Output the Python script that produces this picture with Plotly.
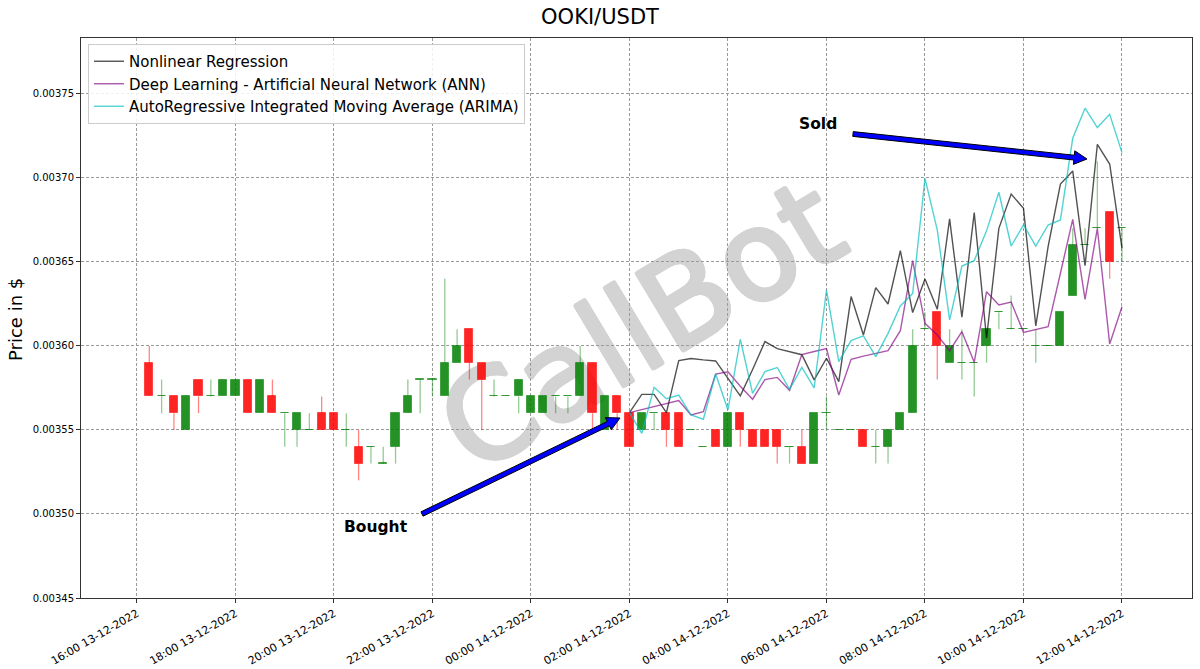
import math
import pandas as pd
import plotly.graph_objects as go

# ---------------- data ----------------
candle_start = "2022-12-13 16:15"
n_candles = 80
times = pd.date_range(candle_start, periods=n_candles, freq="15min")

open_ = [0.00359, 0.00357, 0.00357, 0.00355, 0.00358, 0.00357, 0.00357, 0.00357, 0.00358, 0.00356,
         0.00357, 0.00356, 0.00355, 0.00355, 0.00356, 0.00356, 0.00355, 0.00354, 0.00354, 0.00353,
         0.00354, 0.00356, 0.00358, 0.00358, 0.00357, 0.00359, 0.00361, 0.00359, 0.00357, 0.00357,
         0.00357, 0.00356, 0.00356, 0.00357, 0.00357, 0.00357, 0.00359, 0.00355, 0.00357, 0.00356,
         0.00355, 0.00356, 0.00356, 0.00356, 0.00355, 0.00354, 0.00355, 0.00354, 0.00356, 0.00355,
         0.00355, 0.00355, 0.00354, 0.00354, 0.00353, 0.00356, 0.00355, 0.00355, 0.00355, 0.00354,
         0.00354, 0.00355, 0.00356, 0.00361, 0.00362, 0.00359, 0.00359, 0.00359, 0.00360, 0.00362,
         0.00361, 0.00361, 0.00360, 0.00360, 0.00360, 0.00363, 0.00366, 0.00367, 0.00368, 0.00367]
high = [0.00360, 0.00358, 0.00357, 0.00357, 0.00358, 0.00358, 0.00358, 0.00358, 0.00358, 0.00358,
        0.00358, 0.00356, 0.00356, 0.00356, 0.00357, 0.00356, 0.00356, 0.00355, 0.00354, 0.00354,
        0.00356, 0.00358, 0.00358, 0.00358, 0.00364, 0.00361, 0.00361, 0.00359, 0.00358, 0.00357,
        0.00358, 0.00357, 0.00357, 0.00357, 0.00357, 0.00360, 0.00359, 0.00357, 0.00357, 0.00356,
        0.00356, 0.00356, 0.00356, 0.00356, 0.00355, 0.00354, 0.00355, 0.00356, 0.00356, 0.00355,
        0.00355, 0.00355, 0.00354, 0.00355, 0.00356, 0.00357, 0.00355, 0.00355, 0.00355, 0.00355,
        0.00355, 0.00356, 0.00361, 0.00362, 0.00362, 0.00361, 0.00361, 0.00359, 0.00361, 0.00362,
        0.00363, 0.00361, 0.00361, 0.00360, 0.00362, 0.00367, 0.00367, 0.00371, 0.00368, 0.00367]
low = [0.00357, 0.00356, 0.00355, 0.00355, 0.00356, 0.00357, 0.00357, 0.00357, 0.00356, 0.00356,
       0.00356, 0.00354, 0.00354, 0.00355, 0.00355, 0.00355, 0.00354, 0.00352, 0.00353, 0.00353,
       0.00353, 0.00356, 0.00356, 0.00357, 0.00357, 0.00359, 0.00358, 0.00355, 0.00357, 0.00357,
       0.00356, 0.00356, 0.00356, 0.00356, 0.00356, 0.00357, 0.00355, 0.00355, 0.00355, 0.00354,
       0.00355, 0.00355, 0.00354, 0.00354, 0.00355, 0.00354, 0.00354, 0.00354, 0.00354, 0.00354,
       0.00354, 0.00353, 0.00353, 0.00353, 0.00353, 0.00355, 0.00355, 0.00355, 0.00354, 0.00353,
       0.00353, 0.00355, 0.00356, 0.00361, 0.00358, 0.00359, 0.00358, 0.00357, 0.00359, 0.00361,
       0.00361, 0.00361, 0.00359, 0.00360, 0.00360, 0.00363, 0.00366, 0.00367, 0.00364, 0.00365]
close = [0.00357, 0.00357, 0.00356, 0.00357, 0.00357, 0.00357, 0.00358, 0.00358, 0.00356, 0.00358,
         0.00356, 0.00356, 0.00356, 0.00355, 0.00355, 0.00355, 0.00355, 0.00353, 0.00354, 0.00353,
         0.00356, 0.00357, 0.00358, 0.00358, 0.00359, 0.00360, 0.00359, 0.00358, 0.00357, 0.00357,
         0.00358, 0.00357, 0.00357, 0.00357, 0.00357, 0.00359, 0.00356, 0.00357, 0.00356, 0.00354,
         0.00356, 0.00356, 0.00355, 0.00354, 0.00355, 0.00354, 0.00354, 0.00356, 0.00355, 0.00354,
         0.00354, 0.00354, 0.00354, 0.00353, 0.00356, 0.00356, 0.00355, 0.00355, 0.00354, 0.00354,
         0.00355, 0.00356, 0.00360, 0.00361, 0.00360, 0.00360, 0.00359, 0.00359, 0.00361, 0.00362,
         0.00361, 0.00361, 0.00360, 0.00360, 0.00362, 0.00366, 0.00366, 0.00367, 0.00365, 0.00367]

forecast_start = "2022-12-14 02:00"
n_forecast = 41
forecast_times = pd.date_range(forecast_start, periods=n_forecast, freq="15min")

nonlinear = [0.0035603, 0.0035712, 0.0035712, 0.0035603, 0.0035913, 0.0035925, 0.0035917, 0.0035911,
             0.0035807, 0.0035703, 0.0035860, 0.0036026, 0.0035984, 0.0035968, 0.0035948, 0.0035798,
             0.0035927, 0.0035788, 0.0036294, 0.0036065, 0.0036347, 0.0036250, 0.0036567, 0.0036199,
             0.0036399, 0.0036218, 0.0036756, 0.0036171, 0.0036794, 0.0036046, 0.0036700, 0.0036904,
             0.0036819, 0.0036119, 0.0036591, 0.0036964, 0.0037042, 0.0036478, 0.0037200, 0.0037083,
             0.0036582]
ann = [0.0035603, 0.0035621, 0.0035639, 0.0035657, 0.0035675, 0.0035589, 0.0035609, 0.0035833,
       0.0035846, 0.0035760, 0.0035683, 0.0035800, 0.0035813, 0.0035736, 0.0035949, 0.0035967,
       0.0035985, 0.0035708, 0.0035921, 0.0035940, 0.0035956, 0.0035972, 0.0036091, 0.0036508,
       0.0036135, 0.0036065, 0.0035972, 0.0036085, 0.0035903, 0.0036323, 0.0036244, 0.0036262,
       0.0036081, 0.0036099, 0.0036115, 0.0036433, 0.0036754, 0.0036278, 0.0036700, 0.0036012,
       0.0036234]
arima = [0.0035603, 0.0035480, 0.0035754, 0.0035686, 0.0035708, 0.0035589, 0.0035564, 0.0035833,
         0.0035619, 0.0036040, 0.0035718, 0.0035847, 0.0035872, 0.0035742, 0.0035873, 0.0035751,
         0.0036333, 0.0035907, 0.0036032, 0.0036060, 0.0035937, 0.0036075, 0.0036238, 0.0036313,
         0.0036998, 0.0036690, 0.0036155, 0.0036476, 0.0036508, 0.0036685, 0.0036915, 0.0036595,
         0.0036720, 0.0036595, 0.0036720, 0.0036750, 0.0037236, 0.0037415, 0.0037300, 0.0037379,
         0.0037151]

series_names = ["Nonlinear Regression",
                "Deep Learning - Artificial Neural Network (ANN)",
                "AutoRegressive Integrated Moving Average (ARIMA)"]

y_ticks = [0.00345, 0.00350, 0.00355, 0.00360, 0.00365, 0.00370, 0.00375]

# ---------------- layout constants ----------------
W, H = 1200, 669
PL, PR, PT, PB = 81, 1192, 38, 598   # plot area in pixels

def to_paper(px, py):
    return (px - PL) / (PR - PL), (PB - py) / (PB - PT)

GREEN_BODY = "rgba(0,128,0,0.86)"
GREEN_EDGE = "rgba(0,128,0,0.55)"
GREEN_WICK = "rgba(0,128,0,0.42)"
RED_BODY = "rgba(255,0,0,0.86)"
RED_EDGE = "rgba(255,0,0,0.55)"
RED_WICK = "rgba(255,0,0,0.48)"

fig = go.Figure()

# wicks (outside of body)
wick = {"g": ([], []), "r": ([], [])}
for t, o, h, l, c in zip(times, open_, high, low, close):
    key = "g" if c >= o else "r"
    top, bot = max(o, c), min(o, c)
    xs, ys = wick[key]
    if h > top:
        xs += [t, t, None]
        ys += [top, h, None]
    if l < bot:
        xs += [t, t, None]
        ys += [bot, l, None]
for key, col in (("g", GREEN_WICK), ("r", RED_WICK)):
    fig.add_trace(go.Scatter(x=wick[key][0], y=wick[key][1], mode="lines",
                             line=dict(color=col, width=1.3), showlegend=False,
                             hoverinfo="skip"))

# bodies
min_h = 0.00000012
bases, heights, fills, edges = [], [], [], []
for o, c in zip(open_, close):
    hgt = abs(c - o)
    if hgt < min_h:
        bases.append(o - min_h / 2)
        heights.append(min_h)
    else:
        bases.append(min(o, c))
        heights.append(hgt)
    up = c >= o
    fills.append(GREEN_BODY if up else RED_BODY)
    edges.append(GREEN_EDGE if up else RED_EDGE)
fig.add_trace(go.Bar(x=times, y=heights, base=bases, width=15 * 60 * 1000 * 0.66,
                     marker=dict(color=fills, line=dict(color=edges, width=1)),
                     showlegend=False, hoverinfo="skip"))

# forecast lines
line_colors = ["rgba(0,0,0,0.68)", "rgba(128,0,128,0.66)", "rgba(0,190,190,0.68)"]
for name, vals, col in zip(series_names, [nonlinear, ann, arima], line_colors):
    fig.add_trace(go.Scatter(x=forecast_times, y=vals, mode="lines", name=name,
                             line=dict(color=col, width=1.4)))

# ---------------- arrows ----------------
def arrow_path(tail, head, shaft=2.4, head_w=6.8, head_l=13.0):
    tx, ty = tail
    hx, hy = head
    d = math.hypot(hx - tx, hy - ty)
    ux, uy = (hx - tx) / d, (hy - ty) / d
    nx, ny = -uy, ux
    bx, by = hx - ux * head_l, hy - uy * head_l
    pts = [(tx + nx * shaft, ty + ny * shaft), (bx + nx * shaft, by + ny * shaft),
           (bx + nx * head_w, by + ny * head_w), (hx, hy),
           (bx - nx * head_w, by - ny * head_w), (bx - nx * shaft, by - ny * shaft),
           (tx - nx * shaft, ty - ny * shaft)]
    pp = [to_paper(x, y) for x, y in pts]
    return "M " + " L ".join(f"{x:.5f},{y:.5f}" for x, y in pp) + " Z"

shapes = []
for tail, head in (((422, 514), (620, 418)), ((853, 134), (1087, 159))):
    shapes.append(dict(type="path", xref="paper", yref="paper",
                       path=arrow_path(tail, head), fillcolor="blue",
                       line=dict(color="black", width=1), layer="above"))

# watermark (below traces)
wm_col = "#d3d3d3"
wm_shadow = ", ".join(f"{dx}px {dy}px 0 {wm_col}" for dx, dy in
                      ((2, 0), (-2, 0), (0, 2), (0, -2), (1.5, 1.5), (-1.5, -1.5), (1.5, -1.5), (-1.5, 1.5)))
shapes.append(dict(type="rect", xref="paper", yref="paper", x0=0.2, x1=0.8, y0=0.2, y1=0.8,
                   line=dict(width=0), fillcolor="rgba(0,0,0,0)", layer="below",
                   label=dict(text="CallBot", textangle=-31, textposition="middle center",
                              font=dict(family="DejaVu Sans", size=124, color=wm_col,
                                        shadow=wm_shadow))))

annotations = []
bx, by = to_paper(376, 527)
annotations.append(dict(x=bx, y=by, xref="paper", yref="paper", text="<b>Bought</b>",
                        showarrow=False, xanchor="center", yanchor="middle",
                        font=dict(family="DejaVu Sans", size=15.5, color="black")))
sx, sy = to_paper(818, 124)
annotations.append(dict(x=sx, y=sy, xref="paper", yref="paper", text="<b>Sold</b>",
                        showarrow=False, xanchor="center", yanchor="middle",
                        font=dict(family="DejaVu Sans", size=15.5, color="black")))
lx, ly = to_paper(15, 320)
annotations.append(dict(x=lx, y=ly, xref="paper", yref="paper", text="Price in $",
                        showarrow=False, textangle=-90, xanchor="center", yanchor="middle",
                        font=dict(family="DejaVu Sans", size=18, color="black")))

grid = dict(showgrid=True, gridcolor="#9a9a9a", gridwidth=1, griddash="3px,2px")
axis_common = dict(showline=True, linecolor="#333333", linewidth=1, mirror=True,
                   ticks="outside", ticklen=4, tickcolor="#333333", zeroline=False,
                   automargin=False, **grid)

lg_x, lg_y = to_paper(88, 44)
fig.update_layout(
    width=W, height=H,
    margin=dict(l=PL, r=W - PR, t=PT, b=H - PB, autoexpand=False),
    paper_bgcolor="white", plot_bgcolor="white",
    barmode="overlay", bargap=0,
    title=dict(text="OOKI/USDT", x=0.5, xref="container", xanchor="center",
               y=1 - 17 / H, yref="container", yanchor="middle",
               font=dict(family="DejaVu Sans", size=21, color="black")),
    xaxis=dict(type="date", range=["2022-12-13 14:51:48", "2022-12-14 13:25:18"],
               tick0="2022-12-13 16:00", dtick=2 * 3600 * 1000,
               tickformat="%H:%M %d-%m-%Y", tickangle=-30,
               tickfont=dict(family="DejaVu Sans", size=11, color="black"), **axis_common),
    yaxis=dict(range=[0.00345, 0.0037833], tickvals=y_ticks, tickformat=".5f",
               tickfont=dict(family="DejaVu Sans", size=10, color="black"), **axis_common),
    legend=dict(x=lg_x, y=lg_y, xanchor="left", yanchor="top",
                bgcolor="rgba(255,255,255,0.85)", bordercolor="#cccccc", borderwidth=1,
                font=dict(family="DejaVu Sans", size=15, color="black"),
                itemwidth=30),
    shapes=shapes, annotations=annotations,
    showlegend=True,
)

fig.write_html("out.html", config={"displayModeBar": False},
               post_script="document.body.style.margin='0px';")
